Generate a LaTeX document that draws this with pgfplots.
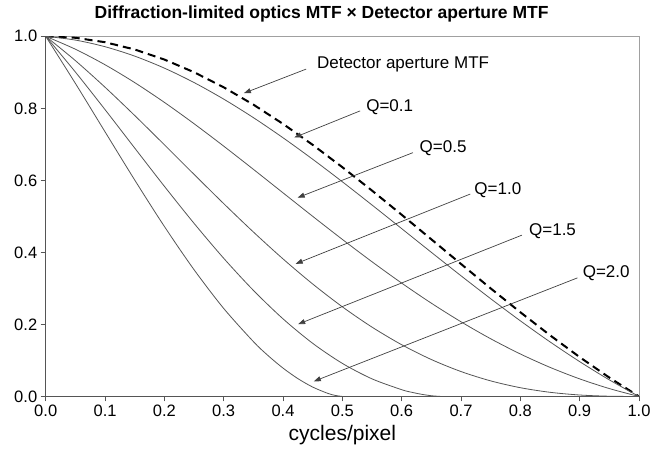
\documentclass[border=0pt]{standalone}
\usepackage{pgfplots}
\pgfplotsset{compat=1.18}
\usepackage{fontspec}
\setmainfont{Liberation Sans}
\usetikzlibrary{arrows.meta}
\definecolor{curve}{HTML}{555555}
\definecolor{axisdark}{HTML}{555555}
\definecolor{axislight}{HTML}{A0A0A0}
\tikzset{
  arr/.style={draw=black!75, line width=0.7pt, -{Triangle[length=7pt,width=5pt]}},
  lab/.style={anchor=west, inner sep=0pt, font=\fontsize{17}{20}\selectfont},
}

\begin{document}
\begin{tikzpicture}
\begin{axis}[name=ax, scale only axis, width=593pt, height=360pt,
  xmin=0, xmax=1, ymin=0, ymax=1,
  axis x line*=bottom, axis y line*=left,
  axis line style={-, draw=axisdark, line width=0.9pt},
  xtick={0,0.1,0.2,0.3,0.4,0.5,0.6,0.7,0.8,0.9,1},
  ytick={0,0.2,0.4,0.6,0.8,1},
  tick align=outside, major tick length=5pt,
  tick style={axisdark, line width=0.9pt},
  ticklabel style={font=\fontsize{16.5}{19}\selectfont, text=black},
  xlabel={cycles/pixel},
  xlabel style={font=\fontsize{21}{25}\selectfont, yshift=-2pt},
  title={Diffraction-limited optics MTF \texttimes\ Detector aperture MTF},
  title style={font=\bfseries\fontsize{17.5}{20}\selectfont, at={(0.465,1.045)}, anchor=center},
  clip mode=individual,
  /pgf/number format/fixed,
  /pgf/number format/fixed zerofill,
  /pgf/number format/precision=1,
  /pgf/number format/assume math mode=true,
]
\draw[axislight, line width=0.9pt] (rel axis cs:0,1) -- (rel axis cs:1,1) -- (rel axis cs:1,0);

% Detector aperture MTF
\addplot[black, line width=2pt, dash pattern=on 8pt off 5pt] coordinates {
(0,1)(0.05,0.99589)(0.1,0.98363)(0.15,0.96340)(0.2,0.93549)(0.25,0.90032)(0.3,0.85839)(0.35,0.81034)(0.4,0.75683)(0.45,0.69865)(0.5,0.63662)(0.55,0.57162)(0.6,0.50455)(0.65,0.43633)(0.7,0.36788)(0.75,0.30011)(0.8,0.23387)(0.85,0.17001)(0.9,0.10929)(0.95,0.05241)(1,0)};
% Q=0.1
\addplot[curve, line width=0.8pt, smooth] coordinates {
(0,1)(0.05,0.98955)(0.1,0.97111)(0.15,0.94500)(0.2,0.91167)(0.25,0.87166)(0.3,0.82561)(0.35,0.77424)(0.4,0.71830)(0.45,0.65863)(0.5,0.59611)(0.55,0.53161)(0.6,0.46603)(0.65,0.40024)(0.7,0.33512)(0.75,0.27148)(0.8,0.21007)(0.85,0.15163)(0.9,0.09678)(0.95,0.04608)(1,0)};
% Q=0.5
\addplot[curve, line width=0.8pt, smooth] coordinates {
(0,1)(0.05,0.96419)(0.1,0.92104)(0.15,0.87149)(0.2,0.81658)(0.25,0.75740)(0.3,0.69507)(0.35,0.63071)(0.4,0.56540)(0.45,0.50020)(0.5,0.43611)(0.55,0.37403)(0.6,0.31476)(0.65,0.25901)(0.7,0.20735)(0.75,0.16025)(0.8,0.11802)(0.85,0.08086)(0.9,0.04885)(0.95,0.02195)(1,0)};
% Q=1.0
\addplot[curve, line width=0.8pt, smooth] coordinates {
(0,1)(0.05,0.93252)(0.1,0.85860)(0.15,0.78010)(0.2,0.69887)(0.25,0.61675)(0.3,0.53550)(0.35,0.45674)(0.4,0.38192)(0.45,0.31231)(0.5,0.24892)(0.55,0.19254)(0.6,0.14367)(0.65,0.10257)(0.7,0.06921)(0.75,0.04330)(0.8,0.02434)(0.85,0.01159)(0.9,0.00409)(0.95,0.00070)(1,0)};
% Q=1.5
\addplot[curve, line width=0.8pt, smooth] coordinates {
(0,1)(0.05,0.90088)(0.1,0.79648)(0.15,0.68975)(0.2,0.58359)(0.25,0.48075)(0.3,0.38371)(0.35,0.29470)(0.4,0.21551)(0.45,0.14758)(0.5,0.09186)(0.55,0.04889)(0.6,0.01886)(0.61667,0.01175)(0.63333,0.00612)(0.65,0.00206)(0.66667,0)};
\addplot[curve, line width=0.8pt] coordinates {(0.66667,0)(1,0)};
% Q=2.0
\addplot[curve, line width=0.8pt, smooth] coordinates {
(0,1)(0.05,0.86930)(0.1,0.73483)(0.15,0.60101)(0.2,0.47208)(0.25,0.35203)(0.3,0.24443)(0.35,0.15244)(0.375,0.11316)(0.4,0.07878)(0.425,0.04963)(0.45,0.02612)(0.475,0.00890)(0.4875,0.00309)(0.5,0)};
\addplot[curve, line width=0.8pt] coordinates {(0.5,0)(1,0)};

% annotations
\draw[arr] (axis cs:0.439,0.909) -- (axis cs:0.334,0.842);
\node[lab] at (axis cs:0.457,0.921) {Detector aperture MTF};
\draw[arr] (axis cs:0.530,0.793) -- (axis cs:0.419,0.719);
\node[lab] at (axis cs:0.540,0.804) {Q=0.1};
\draw[arr] (axis cs:0.619,0.677) -- (axis cs:0.4246,0.552);
\node[lab] at (axis cs:0.630,0.690) {Q=0.5};
\draw[arr] (axis cs:0.7155,0.562) -- (axis cs:0.4213,0.3683);
\node[lab] at (axis cs:0.7223,0.574) {Q=1.0};
\draw[arr] (axis cs:0.8027,0.448) -- (axis cs:0.4255,0.2008);
\node[lab] at (axis cs:0.8145,0.458) {Q=1.5};
\draw[arr] (axis cs:0.8964,0.3294) -- (axis cs:0.4519,0.042);
\node[lab] at (axis cs:0.9049,0.343) {Q=2.0};
\end{axis}
\pgfresetboundingbox
\path (ax.south west) ++(-45.7pt,-57.7pt) coordinate (bl);
\path (ax.north east) ++(23pt,36.3pt) coordinate (tr);
\path (bl) rectangle (tr);
\end{tikzpicture}
\end{document}
